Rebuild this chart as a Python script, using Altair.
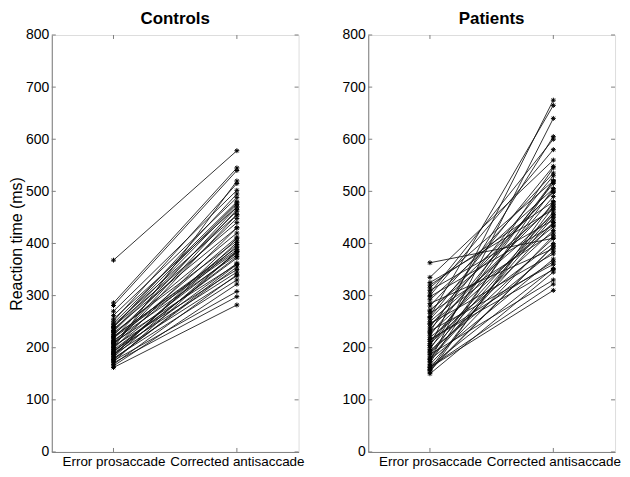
import altair as alt
import pandas as pd

conditions = ["Error prosaccade", "Corrected antisaccade"]
y_ticks = [0, 100, 200, 300, 400, 500, 600, 700, 800]

controls_pro = [368, 286, 281, 270, 262, 255, 251, 247, 244, 241, 239, 236, 233, 231, 229, 226, 224,
                221, 219, 217, 214, 212, 210, 207, 205, 203, 201, 198, 196, 194, 191, 189, 187, 184,
                182, 180, 178, 175, 173, 171, 168, 165, 162, 240, 222, 208, 193, 186, 177, 200]
controls_anti = [578, 545, 540, 502, 488, 470, 515, 480, 455, 440, 495, 430, 475, 462, 405, 420, 448,
                 392, 385, 470, 378, 412, 360, 398, 455, 350, 382, 430, 372, 345, 395, 362, 338, 410,
                 385, 330, 355, 308, 385, 298, 340, 322, 282, 478, 388, 465, 375, 402, 360, 520]

patients_pro = [363, 335, 320, 315, 310, 305, 298, 292, 285, 280, 272, 266, 260, 255, 250, 246, 240,
                236, 232, 228, 224, 220, 216, 212, 208, 204, 200, 197, 194, 190, 187, 184, 180, 177,
                174, 171, 168, 165, 162, 159, 156, 153, 150, 300, 270, 245, 230, 215, 205, 192, 178,
                163, 158, 325, 258]
patients_anti = [410, 560, 480, 520, 445, 600, 435, 505, 390, 535, 470, 420, 665, 500, 455, 380, 530,
                 475, 360, 440, 515, 400, 350, 490, 425, 675, 460, 545, 385, 410, 330, 505, 450, 370,
                 640, 520, 415, 352, 310, 470, 395, 480, 345, 580, 498, 432, 605, 365, 520, 455, 440,
                 322, 395, 465, 548]

def make_df(pro, anti):
    rows = []
    for i, (a, b) in enumerate(zip(pro, anti)):
        rows.append({"subject": i, "cond": 1, "rt": a})
        rows.append({"subject": i, "cond": 2, "rt": b})
    return pd.DataFrame(rows)

ASTERISK = "M-1,0L1,0M0,-1L0,1M-0.7,-0.7L0.7,0.7M-0.7,0.7L0.7,-0.7"
W, H = 248, 419
AXIS_GRAY = "#7f7f7f"

label_expr = f"datum.value == 1 ? '{conditions[0]}' : '{conditions[1]}'"

def panel(pro, anti, title, show_ytitle):
    df = make_df(pro, anti)
    xs = alt.Scale(domain=[0.5, 2.5], nice=False, zero=False)
    ys = alt.Scale(domain=[0, 800], nice=False)
    x = alt.X("cond:Q", scale=xs,
              axis=alt.Axis(values=[1, 2], labelExpr=label_expr, ticks=False, grid=False,
                            title=None, labelFontSize=13.5, labelPadding=3, domainColor=AXIS_GRAY,
                            labelColor="black", labelFont="Liberation Sans"))
    y = alt.Y("rt:Q", scale=ys,
              axis=alt.Axis(values=y_ticks, ticks=False, grid=False,
                            title="Reaction time (ms)" if show_ytitle else None,
                            titleFontSize=16, titleFontWeight="normal", titlePadding=1,
                            titleFont="Liberation Sans",
                            labelFontSize=14, labelPadding=3, domainColor=AXIS_GRAY,
                            labelColor="black", labelFont="Liberation Sans"))
    base = alt.Chart(df)
    lines = base.mark_line(color="#111111", strokeWidth=0.85).encode(x=x, y=y, detail="subject:N")
    pts = base.mark_point(shape=ASTERISK, size=24, color="#000000", strokeWidth=1,
                          filled=False, opacity=1).encode(x=x, y=y)
    tick_df = pd.DataFrame({"v": y_ticks})
    ytick_l = alt.Chart(tick_df).mark_rule(color=AXIS_GRAY).encode(
        y=alt.Y("v:Q", scale=ys), x=alt.value(0), x2=alt.value(4))
    ytick_r = alt.Chart(tick_df).mark_rule(color=AXIS_GRAY).encode(
        y=alt.Y("v:Q", scale=ys), x=alt.value(W - 4), x2=alt.value(W))
    xt_df = pd.DataFrame({"c": [1, 2]})
    xtick_b = alt.Chart(xt_df).mark_rule(color=AXIS_GRAY).encode(
        x=alt.X("c:Q", scale=xs), y=alt.value(H - 4), y2=alt.value(H))
    xtick_t = alt.Chart(xt_df).mark_rule(color=AXIS_GRAY).encode(
        x=alt.X("c:Q", scale=xs), y=alt.value(0), y2=alt.value(4))
    return alt.layer(lines, pts, ytick_l, ytick_r, xtick_b, xtick_t).properties(
        width=W, height=H,
        title=alt.TitleParams(title, fontSize=17, fontWeight="bold", font="Liberation Sans",
                              offset=0, color="black"))

left = panel(controls_pro, controls_anti, "Controls", True)
right = panel(patients_pro, patients_anti, "Patients", False)

chart = alt.hconcat(left, right, spacing=36).properties(padding=0).configure_view(
    stroke=AXIS_GRAY, strokeWidth=1
).configure(background="white")

chart.save("out.html", embed_options={"renderer": "svg", "actions": False})
